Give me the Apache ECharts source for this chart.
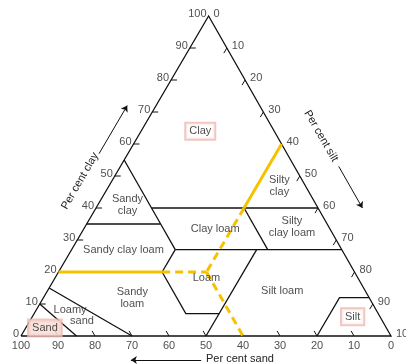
<!DOCTYPE html>
<html>
<head>
<meta charset="utf-8">
<script src="https://cdn.jsdelivr.net/npm/echarts@6/dist/echarts.min.js"></script>
<style>
  html, body { margin: 0; padding: 0; background: #fff; }
  #chart { width: 406px; height: 364px; }
</style>
</head>
<body>
<div id="chart"></div>
<script>
// points are [clay, sand]; silt = 100 - clay - sand
const outline = [[0, 100], [100, 0], [0, 0], [0, 100]];
const boundaries = [
  [[55, 45], [35, 45], [27, 45]],
  [[40, 45], [40, 0]],
  [[35, 65], [35, 45]],
  [[27, 45], [27, 0]],
  [[27, 45], [20, 52]],
  [[20, 52], [7, 52], [7, 43]],
  [[27, 23], [0, 50]],
  [[40, 20], [27, 20]],
  [[0, 20], [12, 8], [12, 0]],
  [[15, 85], [0, 70]],
  [[10, 90], [0, 85]]
];
const yellowSolid = [
  [[20, 80], [20, 52]],
  [[60, 0], [40, 20]]
];
const yellowDashed = [
  [[20, 52], [20, 40]],
  [[40, 20], [20, 40]],
  [[20, 40], [0, 40]]
];
const tickValues = [10, 20, 30, 40, 50, 60, 70, 80, 90];
const tickLabels = [0, 10, 20, 30, 40, 50, 60, 70, 80, 90, 100];

const regionNames = ['Clay', 'Sandy\nclay', 'Clay loam', 'Silty\nclay', 'Silty\nclay loam',
  'Sandy clay loam', 'Loam', 'Sandy\nloam', 'Silt loam', 'Loamy', 'sand', 'Sand', 'Silt'];
const regionClay = [64, 41, 33.5, 47, 34, 27, 18, 12, 14, 8, 4.7, 2.5, 6];
const regionSand = [20, 51, 31, 7, 10, 59, 41, 64, 22.5, 82.8, 81.2, 92.3, 7.4];
const boxed = ['Clay', 'Sand', 'Silt'];

const arrows = [
  [[57, 50.8], [72, 35.8]],
  [[53, -12], [40, -12]],
  [[-7.5, 55], [-7.5, 74]]
];

const K = 0.507;
function pt(clay, sand) {
  const silt = 100 - clay - sand;
  return [silt + K * clay, clay];
}
const toCoords = line => ({ coords: line.map(p => pt(p[0], p[1])) });

const yellow = '#f6c200';
const font = 'Liberation Sans, Arial, sans-serif';

const ticks = [];
tickValues.forEach(v => {
  ticks.push([[v, 100 - v], [v, 100 - v - 1.6]]);      // clay, left edge
  ticks.push([[100 - v, 0], [100 - v - 1.6, 1.6]]);    // silt, right edge
  ticks.push([[0, v], [1.6, v]]);                      // sand, bottom
});

function labelSeries(data, label) {
  return {
    type: 'scatter', symbolSize: 0, silent: true, z: 5,
    data: data,
    label: Object.assign({ show: true, formatter: '{b}', color: '#222', fontSize: 11, fontFamily: font }, label)
  };
}

const chart = echarts.init(document.getElementById('chart'));
chart.setOption({
  animation: false,
  grid: { left: 21, right: 15, top: 16, bottom: 28 },
  xAxis: { type: 'value', min: 0, max: 100, show: false },
  yAxis: { type: 'value', min: 0, max: 100, show: false },
  series: [
    {
      type: 'lines', coordinateSystem: 'cartesian2d', polyline: true, clip: false, silent: true,
      lineStyle: { color: '#111', width: 1.3, opacity: 1 },
      data: [outline].concat(boundaries).map(toCoords)
    },
    {
      type: 'lines', coordinateSystem: 'cartesian2d', polyline: true, clip: false, silent: true,
      lineStyle: { color: '#111', width: 1, opacity: 1 },
      data: ticks.map(toCoords)
    },
    {
      type: 'lines', coordinateSystem: 'cartesian2d', polyline: true, clip: false, silent: true, z: 3,
      lineStyle: { color: yellow, width: 3, opacity: 1 },
      data: yellowSolid.map(toCoords)
    },
    {
      type: 'lines', coordinateSystem: 'cartesian2d', polyline: true, clip: false, silent: true, z: 3,
      lineStyle: { color: yellow, width: 3, opacity: 1, type: [8, 5] },
      data: yellowDashed.map(toCoords)
    },
    {
      type: 'lines', coordinateSystem: 'cartesian2d', clip: false, silent: true,
      symbol: ['none', 'arrow'], symbolSize: 6,
      lineStyle: { color: '#111', width: 1, opacity: 1 },
      data: arrows.map(toCoords)
    },
    labelSeries(tickLabels.map(v => ({ name: String(v), value: pt(v, 100 - v) })),
      { position: 'left', distance: 2, offset: [0, -2] }),
    labelSeries(tickLabels.map(v => ({ name: String(v), value: pt(100 - v, 0) })),
      { position: 'right', distance: 5, offset: [0, -2] }),
    labelSeries(tickLabels.map(v => ({ name: String(v), value: pt(0, v) })),
      { position: 'bottom', distance: 4 }),
    labelSeries(regionNames.map((n, i) => {
      const item = { name: n, value: pt(regionClay[i], regionSand[i]) };
      if (boxed.indexOf(n) >= 0) {
        item.label = {
          borderColor: '#ecb8b0', borderWidth: 2, padding: [2, 3, 1, 3],
          backgroundColor: n === 'Sand' ? '#f8dcd6' : '#fff'
        };
      }
      return item;
    }), { position: 'inside', lineHeight: 12, align: 'center' })
  ],
  graphic: [
    { type: 'text', x: 80, y: 181, rotation: Math.PI / 3,
      style: { text: 'Per cent clay', font: '11px ' + font, fill: '#222', align: 'center', verticalAlign: 'middle' } },
    { type: 'text', x: 321, y: 136, rotation: -Math.PI / 3,
      style: { text: 'Per cent silt', font: '11px ' + font, fill: '#222', align: 'center', verticalAlign: 'middle' } },
    { type: 'text', x: 206, y: 359,
      style: { text: 'Per cent sand', font: '11px ' + font, fill: '#222', align: 'left', verticalAlign: 'middle' } }
  ]
});
</script>
</body>
</html>
